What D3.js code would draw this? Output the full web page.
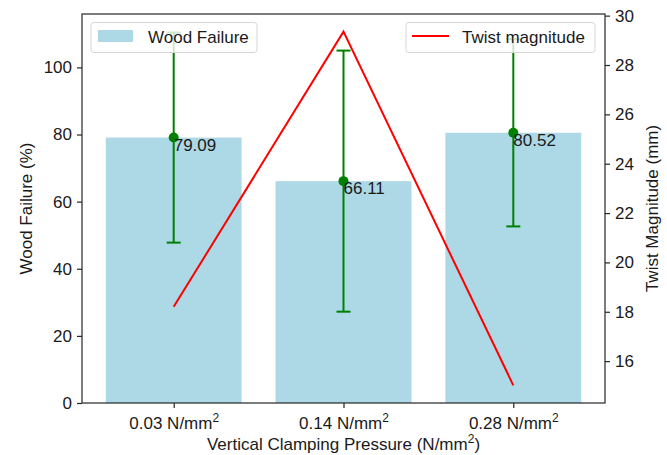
<!DOCTYPE html>
<html>
<head>
<meta charset="utf-8">
<script src="https://cdn.jsdelivr.net/npm/d3@7"></script>
<style>
  body { margin: 0; background: #fff; }
  text { font-family: "Liberation Sans", Arial, sans-serif; fill: #1a1a1a; }
</style>
</head>
<body>
<svg width="667" height="455"></svg>
<script>
// data
var pressures = ["0.03", "0.14", "0.28"];
var woodFailure = [79.09, 66.11, 80.52];
var woodError = [31.3, 38.9, 27.9];
var twist = [18.2, 29.35, 15.02];

var svg = d3.select("svg");
// plot box (don't use "top", it's window.top)
var pL = 82, pR = 605, pT = 14, pB = 403;
var fs = 17;

// x as category index, matplotlib-like margins
var x = d3.scaleLinear()
    .domain([-0.54, 2.54])
    .range([pL, pR]);
var barW = x(0.4) - x(-0.4);

// left axis: 0 .. max(err top) + 5%
var errMax = d3.max(woodFailure.map(function(d, i) { return d + woodError[i]; }));
var y = d3.scaleLinear()
    .domain([0, errMax * 1.05])
    .range([pB, pT]);

// right axis with 5% margins
var tExt = d3.extent(twist), tPad = (tExt[1] - tExt[0]) * 0.05;
var y2 = d3.scaleLinear()
    .domain([tExt[0] - tPad, tExt[1] + tPad])
    .range([pB, pT]);

// bars
svg.append("g").selectAll("rect")
    .data(woodFailure)
    .enter().append("rect")
    .attr("x", function(d, i) { return x(i) - barW / 2; })
    .attr("width", barW)
    .attr("y", function(d) { return y(d); })
    .attr("height", function(d) { return y(0) - y(d); })
    .attr("fill", "#add8e6");

// error bars
var eb = svg.append("g").attr("stroke", "#008000").attr("stroke-width", 2);
woodFailure.forEach(function(d, i) {
    var lo = y(d - woodError[i]), hi = y(d + woodError[i]);
    eb.append("line").attr("x1", x(i)).attr("x2", x(i)).attr("y1", lo).attr("y2", hi);
    [lo, hi].forEach(function(yy) {
        eb.append("line").attr("x1", x(i) - 7).attr("x2", x(i) + 7).attr("y1", yy).attr("y2", yy);
    });
    svg.append("circle").attr("cx", x(i)).attr("cy", y(d)).attr("r", 5).attr("fill", "#008000");
    svg.append("text")
        .attr("x", x(i))
        .attr("y", y(d) + 13)
        .attr("font-size", fs)
        .text(d.toFixed(2));
});

// twist line
svg.append("path")
    .datum(twist)
    .attr("fill", "none")
    .attr("stroke", "red")
    .attr("stroke-width", 2)
    .attr("d", d3.line()
        .x(function(d, i) { return x(i); })
        .y(function(d) { return y2(d); }));

// frame
svg.append("rect")
    .attr("x", pL).attr("y", pT)
    .attr("width", pR - pL).attr("height", pB - pT)
    .attr("fill", "none").attr("stroke", "#262626").attr("stroke-width", 1.2);

function styleAxis(g) {
    g.select(".domain").remove();
    g.selectAll(".tick line").attr("stroke", "#262626").attr("stroke-width", 1.2);
    g.selectAll(".tick text").attr("font-size", fs).attr("fill", "#1a1a1a")
        .attr("font-family", "Liberation Sans, Arial, sans-serif");
}

svg.append("g")
    .attr("transform", "translate(" + pL + ",0)")
    .call(d3.axisLeft(y).tickValues([0, 20, 40, 60, 80, 100]).tickSize(5).tickPadding(5))
    .call(styleAxis);

svg.append("g")
    .attr("transform", "translate(" + pR + ",0)")
    .call(d3.axisRight(y2).tickValues([16, 18, 20, 22, 24, 26, 28, 30]).tickSize(5).tickPadding(5))
    .call(styleAxis);

var xAxis = svg.append("g")
    .attr("transform", "translate(0," + pB + ")")
    .call(d3.axisBottom(x).tickValues([0, 1, 2]).tickSize(5).tickPadding(8).tickFormat(""))
    .call(styleAxis);
xAxis.selectAll(".tick").each(function(d) {
    var t = d3.select(this).append("text")
        .attr("y", 26).attr("text-anchor", "middle").attr("font-size", fs);
    t.append("tspan").text(pressures[d] + " N/mm");
    t.append("tspan").attr("font-size", 12).attr("dy", -7).text("2");
});

// axis titles
svg.append("text")
    .attr("transform", "translate(32," + (pT + pB) / 2 + ") rotate(-90)")
    .attr("text-anchor", "middle").attr("font-size", fs)
    .text("Wood Failure (%)");
svg.append("text")
    .attr("transform", "translate(658," + (pT + pB) / 2 + ") rotate(-90)")
    .attr("text-anchor", "middle").attr("font-size", fs)
    .text("Twist Magnitude (mm)");
var xt = svg.append("text")
    .attr("x", (pL + pR) / 2).attr("y", 450)
    .attr("text-anchor", "middle").attr("font-size", fs);
xt.append("tspan").text("Vertical Clamping Pressure (N/mm");
xt.append("tspan").attr("font-size", 12).attr("dy", -7).text("2");
xt.append("tspan").attr("dy", 7).text(")");

// legends
function legendBox(x0, x1) {
    svg.append("rect")
        .attr("x", x0).attr("y", 22.5)
        .attr("width", x1 - x0).attr("height", 30)
        .attr("rx", 3)
        .attr("fill", "#fff").attr("fill-opacity", 0.8)
        .attr("stroke", "#d6d6d6");
}
legendBox(91, 257);
svg.append("rect").attr("x", 98).attr("y", 30).attr("width", 35).attr("height", 12).attr("fill", "#add8e6");
svg.append("text").attr("x", 148).attr("y", 43).attr("font-size", fs).text("Wood Failure");

legendBox(406, 595);
svg.append("line").attr("x1", 412).attr("x2", 449).attr("y1", 36).attr("y2", 36)
    .attr("stroke", "red").attr("stroke-width", 2);
svg.append("text").attr("x", 462).attr("y", 43).attr("font-size", fs).text("Twist magnitude");
</script>
</body>
</html>
